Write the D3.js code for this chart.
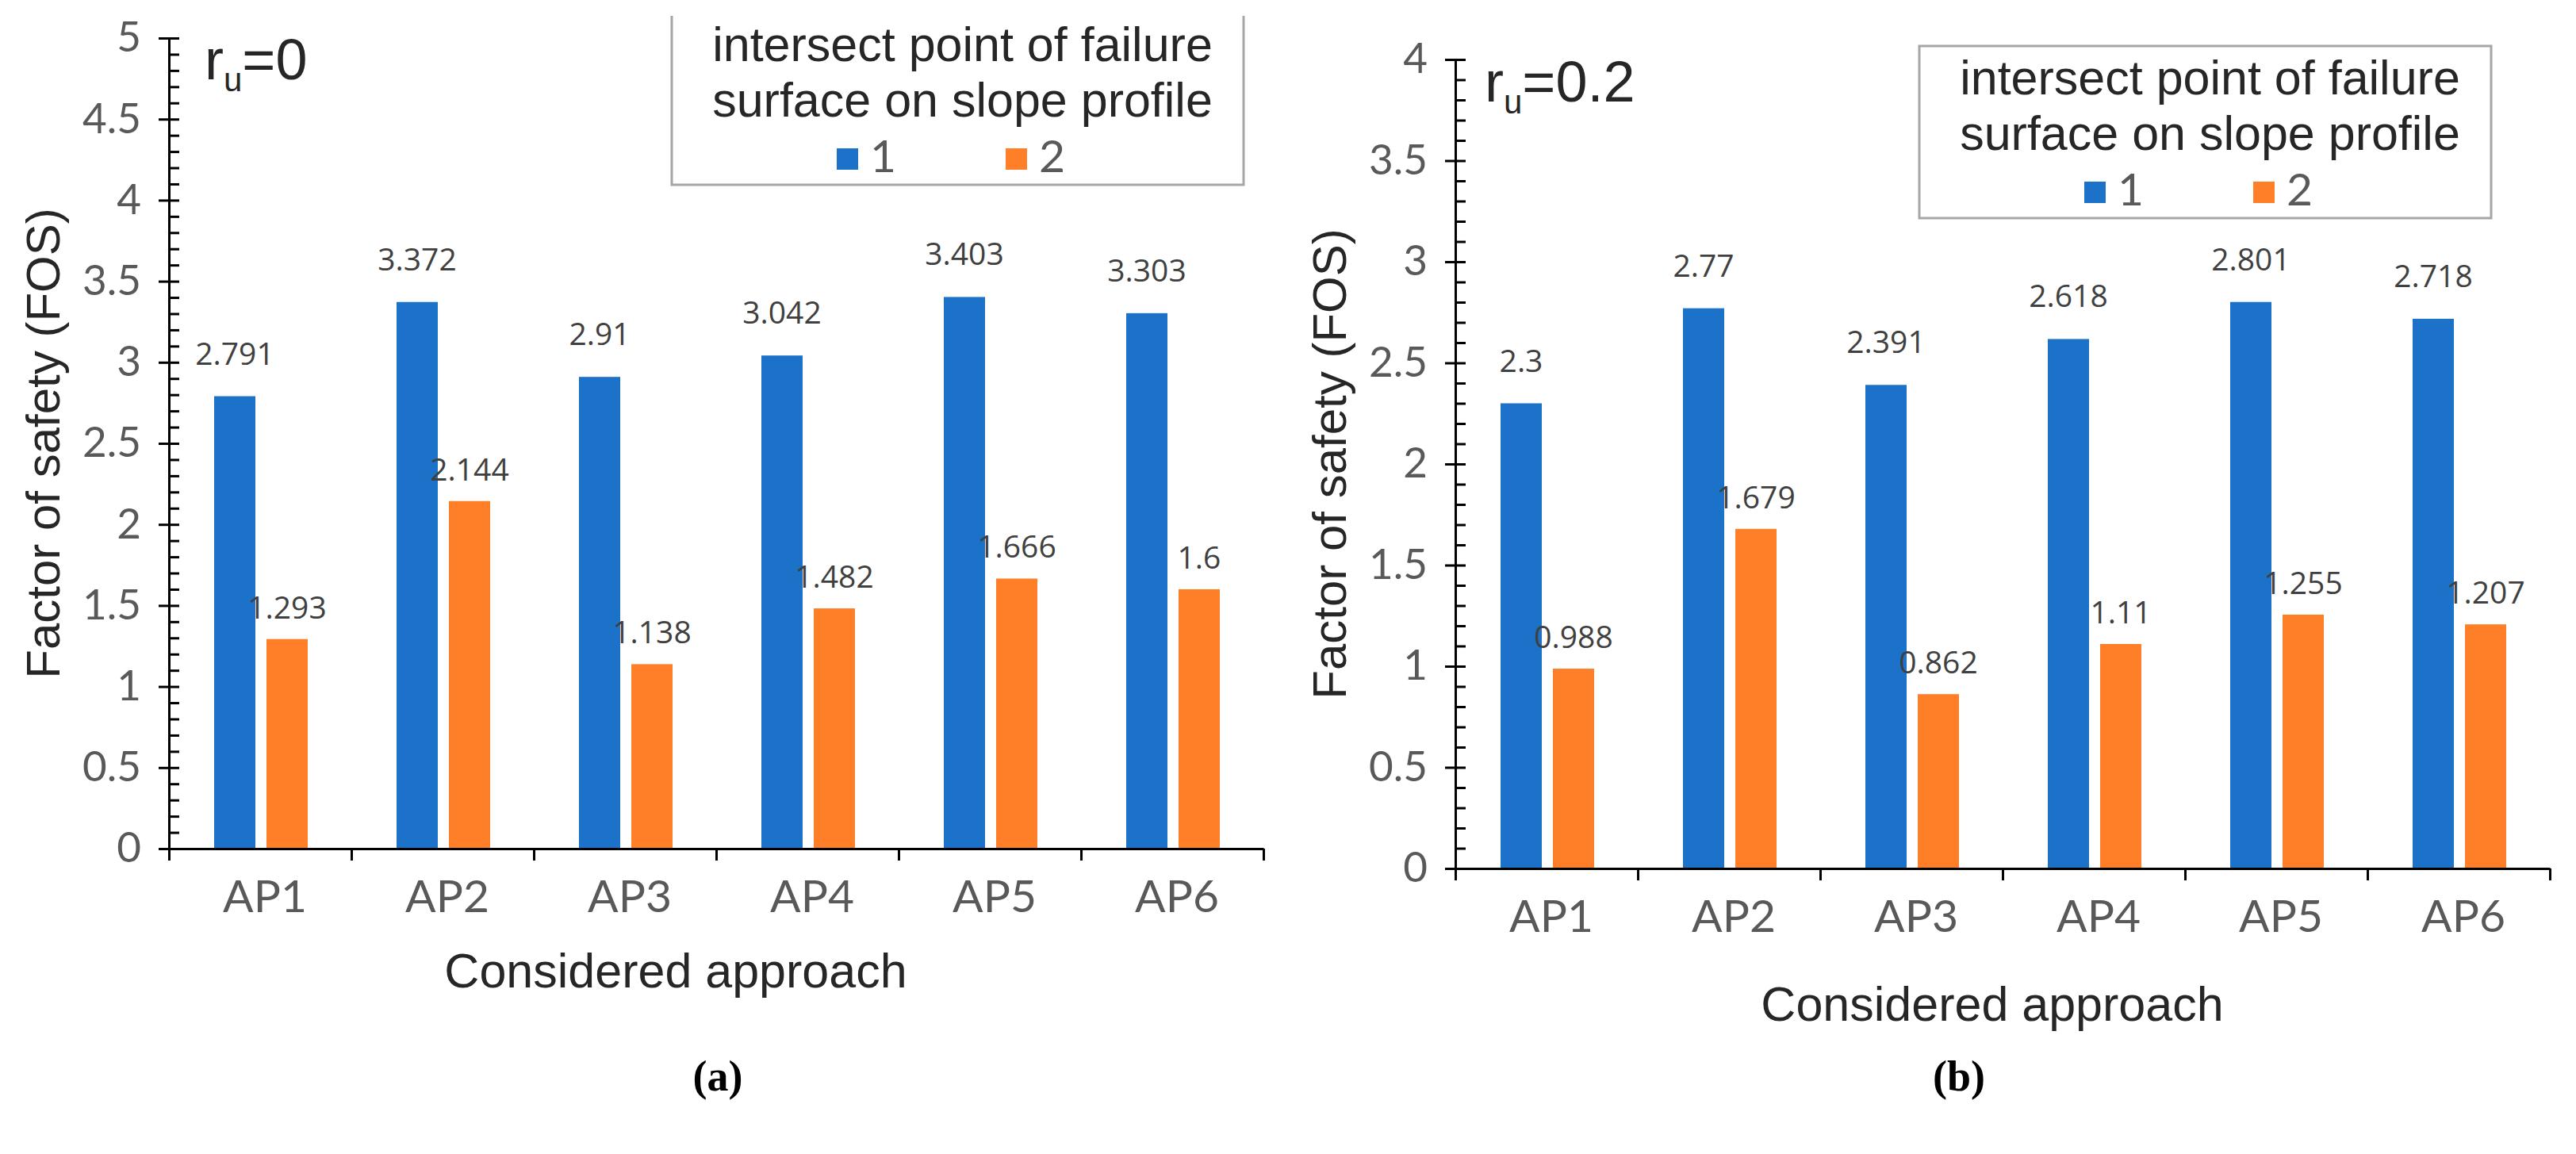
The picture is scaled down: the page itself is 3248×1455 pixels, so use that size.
<!DOCTYPE html>
<html>
<head>
<meta charset="utf-8">
<script src="https://cdn.jsdelivr.net/npm/d3@7"></script>
<style>
  html, body { margin: 0; padding: 0; background: #fff; }
  svg { display: block; }
</style>
</head>
<body>
<svg id="chart"></svg>
<script>
const categories = ["AP1", "AP2", "AP3", "AP4", "AP5", "AP6"];
const seriesNames = ["1", "2"];

// r_u = 0
const ru0Point1 = [2.791, 3.372, 2.91, 3.042, 3.403, 3.303];
const ru0Point2 = [1.293, 2.144, 1.138, 1.482, 1.666, 1.6];

// r_u = 0.2
const ru02Point1 = [2.3, 2.77, 2.391, 2.618, 2.801, 2.718];
const ru02Point2 = [0.988, 1.679, 0.862, 1.11, 1.255, 1.207];

const ru0Ticks = [0, 0.5, 1, 1.5, 2, 2.5, 3, 3.5, 4, 4.5, 5];
const ru02Ticks = [0, 0.5, 1, 1.5, 2, 2.5, 3, 3.5, 4];

const legendTitle = ["intersect point of failure", "surface on slope profile"];
const yTitle = "Factor of safety (FOS)";
const xTitle = "Considered approach";

const width = 3248;
const height = 1455;

const colors = { "1": "#1c72c9", "2": "#fe7f27" };
// gap between bar top and its value label
const labelGap = { "1": 40, "2": 26 };

const svg = d3.select("#chart")
  .attr("width", width)
  .attr("height", height)
  .attr("viewBox", [0, 0, width, height]);

function drawPanel(p) {
  const g = svg.append("g");

  const x = d3.scaleBand().domain(categories).range([p.left, p.right]);
  const xInner = d3.scaleBand().domain(seriesNames).range([57, 175]).paddingInner(0.212);
  const y = d3.scaleLinear().domain([0, p.max]).range([p.zero, p.top]);

  const rows = categories.map((c, i) => ({ cat: c, "1": p.s1[i], "2": p.s2[i] }));

  // bars
  const groups = g.selectAll("g.cat")
    .data(rows)
    .join("g")
    .attr("class", "cat")
    .attr("transform", d => `translate(${x(d.cat)},0)`);

  groups.selectAll("rect")
    .data(d => seriesNames.map(s => ({ s, v: d[s] })))
    .join("rect")
    .attr("x", d => xInner(d.s))
    .attr("width", xInner.bandwidth())
    .attr("y", d => y(d.v))
    .attr("height", d => y(0) - y(d.v))
    .attr("fill", d => colors[d.s]);

  groups.selectAll("text.val")
    .data(d => seriesNames.map(s => ({ s, v: d[s] })))
    .join("text")
    .attr("class", "val")
    .attr("x", d => xInner(d.s) + xInner.bandwidth() / 2)
    .attr("y", d => y(d.v) - labelGap[d.s])
    .attr("text-anchor", "middle")
    .attr("font-family", "'Open Sans', sans-serif")
    .attr("font-size", 39)
    .attr("fill", "#404040")
    .text(d => String(d.v));

  // y axis: major ticks crossing, minor ticks inside
  const minor = d3.range(0, Math.round(p.max * 10) + 1).map(k => k / 10);
  const yAxisG = g.append("g")
    .attr("transform", `translate(${p.left},0)`)
    .call(d3.axisRight(y).tickValues(minor).tickSize(13).tickFormat(""));
  yAxisG.select(".domain").remove();
  yAxisG.selectAll("line").attr("stroke", "#000").attr("stroke-width", 3);

  const yLab = g.append("g")
    .attr("transform", `translate(${p.left},0)`)
    .call(d3.axisLeft(y).tickValues(p.ticks).tickSize(13).tickSizeOuter(0).tickPadding(22).tickFormat(d => String(d)));
  yLab.select(".domain").attr("stroke", "#000").attr("stroke-width", 3);
  yLab.selectAll("line").attr("stroke", "#000").attr("stroke-width", 3);
  yLab.selectAll("text")
    .attr("font-family", "Lato, 'Open Sans', sans-serif")
    .attr("font-size", 53)
    .attr("fill", "#595959");

  // x axis: boundary ticks pointing down
  const xb = d3.scaleLinear().domain([0, categories.length]).range([p.left, p.right]);
  const xAxisG = g.append("g")
    .attr("transform", `translate(0,${p.zero})`)
    .call(d3.axisBottom(xb).tickValues(d3.range(categories.length + 1)).tickSize(15).tickSizeOuter(0).tickFormat(""));
  xAxisG.select(".domain").attr("stroke", "#000").attr("stroke-width", 3);
  xAxisG.selectAll("line").attr("stroke", "#000").attr("stroke-width", 3);

  const xLab = g.append("g")
    .attr("transform", `translate(0,${p.zero})`)
    .call(d3.axisBottom(x).tickSize(0).tickPadding(0));
  xLab.select(".domain").remove();
  xLab.selectAll("text")
    .attr("y", 80)
    .attr("dy", 0)
    .attr("dx", 6)
    .attr("font-family", "Lato, 'Open Sans', sans-serif")
    .attr("font-size", 57)
    .attr("fill", "#595959");

  // axis titles
  g.append("text")
    .attr("transform", `translate(${p.left - 138},${(p.top + p.zero) / 2}) rotate(-90)`)
    .attr("text-anchor", "middle")
    .attr("font-family", "'Liberation Sans', Arial, sans-serif")
    .attr("font-size", 60)
    .attr("fill", "#262626")
    .text(yTitle);

  g.append("text")
    .attr("x", p.xTitleX)
    .attr("y", p.xTitleY)
    .attr("text-anchor", "middle")
    .attr("font-family", "'Liberation Sans', Arial, sans-serif")
    .attr("font-size", 61)
    .attr("fill", "#262626")
    .text(xTitle);

  // r_u label
  const ru = g.append("text")
    .attr("x", p.left + p.ruDx)
    .attr("y", p.ruY)
    .attr("font-family", "'Liberation Sans', Arial, sans-serif")
    .attr("font-size", 72)
    .attr("fill", "#262626");
  ru.append("tspan").text("r");
  ru.append("tspan").attr("font-size", 42).attr("dy", 15).text("u");
  ru.append("tspan").attr("dy", -15).text("=" + p.ru);

  // legend
  const lg = g.append("g").attr("transform", `translate(${p.legX},${p.legY})`);
  const lw = 721, lh = 217;
  if (p.legTop) {
    lg.append("rect")
      .attr("width", lw).attr("height", lh)
      .attr("fill", "#fff").attr("stroke", "#a6a6a6").attr("stroke-width", 3);
  } else {
    lg.append("path")
      .attr("d", `M0,4V${lh}H${lw}V4`)
      .attr("fill", "#fff").attr("stroke", "#a6a6a6").attr("stroke-width", 3);
  }
  legendTitle.forEach((t, i) => {
    lg.append("text")
      .attr("x", lw / 2 + 6)
      .attr("y", 61 + i * 70)
      .attr("text-anchor", "middle")
      .attr("font-family", "'Liberation Sans', Arial, sans-serif")
      .attr("font-size", 61)
      .attr("fill", "#262626")
      .text(t);
  });
  const legItems = lg.selectAll("g.item")
    .data(seriesNames)
    .join("g")
    .attr("class", "item")
    .attr("transform", (d, i) => `translate(${208 + i * 213},0)`);
  legItems.append("rect")
    .attr("y", 171).attr("width", 27).attr("height", 27)
    .attr("fill", d => colors[d]);
  legItems.append("text")
    .attr("x", 42).attr("y", 201)
    .attr("font-family", "Lato, 'Open Sans', sans-serif")
    .attr("font-size", 57)
    .attr("fill", "#595959")
    .text(d => d);

  // caption
  g.append("text")
    .attr("x", p.capX)
    .attr("y", 1375)
    .attr("text-anchor", "middle")
    .attr("font-family", "'Liberation Serif', 'DejaVu Serif', serif")
    .attr("font-weight", "bold")
    .attr("font-size", 54)
    .attr("fill", "#000")
    .text(p.caption);
}

drawPanel({
  left: 213, right: 1593, top: 48, zero: 1070, max: 5, ticks: ru0Ticks,
  s1: ru0Point1, s2: ru0Point2, ru: "0", ruDx: 45, ruY: 100,
  legX: 847, legY: 16, legTop: false,
  xTitleX: 852, xTitleY: 1245, capX: 905, caption: "(a)"
});

drawPanel({
  left: 1835, right: 3215, top: 75, zero: 1095, max: 4, ticks: ru02Ticks,
  s1: ru02Point1, s2: ru02Point2, ru: "0.2", ruDx: 37, ruY: 128,
  legX: 2420, legY: 58, legTop: true,
  xTitleX: 2512, xTitleY: 1287, capX: 2470, caption: "(b)"
});
</script>
</body>
</html>
